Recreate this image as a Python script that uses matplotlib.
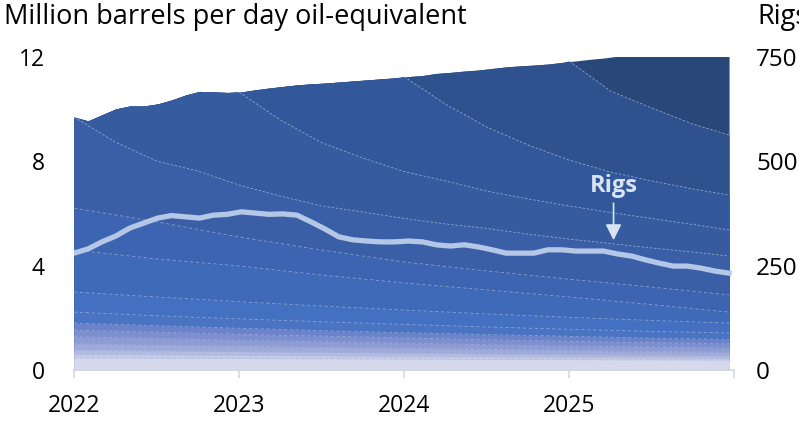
import numpy as np
import matplotlib.pyplot as plt

plt.rcParams['font.family'] = ['Open Sans', 'DejaVu Sans']

# monthly total production, million b/d oil-equivalent (Jan 2022 - Dec 2025)
total = [9.70, 9.55, 9.78, 10.01, 10.12, 10.12, 10.20, 10.35, 10.54, 10.68, 10.66, 10.64,
         10.66, 10.74, 10.81, 10.87, 10.93, 10.97, 11.00, 11.04, 11.08, 11.12, 11.16, 11.20,
         11.25, 11.29, 11.37, 11.41, 11.46, 11.50, 11.56, 11.62, 11.66, 11.69, 11.73, 11.79,
         11.85, 11.91, 11.96, 12.03, 12.07, 12.10, 12.12, 12.15, 12.18, 12.20, 12.23, 12.25]

# monthly rig count
rigs = [280, 290, 307, 321, 340, 352, 364, 370, 367, 364, 371, 373,
        379, 376, 373, 374, 371, 355, 338, 319, 312, 309, 307, 307,
        309, 307, 300, 297, 300, 295, 288, 280, 280, 280, 288, 288,
        285, 285, 285, 278, 273, 264, 256, 249, 249, 244, 237, 232]

# cumulative top of each vintage, quarterly from Q1 2022
pre2022_top = [9.70, 8.74, 8.01, 7.63, 7.09, 6.67, 6.29, 6.06, 5.81,
               5.60, 5.43, 5.21, 5.02, 4.85, 4.68, 4.52, 4.37]
top_2022 = [10.66, 9.59, 8.72, 8.13, 7.61, 7.25, 6.86, 6.56, 6.29,
            6.04, 5.81, 5.58, 5.37]          # from 2023
top_2023 = [11.25, 10.20, 9.32, 8.63, 8.05, 7.59, 7.25, 6.94, 6.71]  # from 2024
top_2024 = [11.85, 10.70, 10.05, 9.43, 9.01]  # from 2025

# older vintages, cumulative tops, half-yearly from 2022
old_tops = [
    [6.21, 5.68, 5.10, 4.60, 4.14, 3.80, 3.48, 3.18, 2.88],
    [4.60, 4.26, 3.99, 3.64, 3.34, 3.07, 2.80, 2.51, 2.22],
    [2.99, 2.80, 2.62, 2.45, 2.30, 2.15, 2.02, 1.90, 1.80],
    [2.22, 2.08, 1.96, 1.85, 1.75, 1.65, 1.56, 1.48, 1.42],
    [1.80, 1.70, 1.60, 1.51, 1.43, 1.36, 1.29, 1.22, 1.17],
    [1.53, 1.45, 1.37, 1.30, 1.23, 1.16, 1.10, 1.05, 1.00],
    [1.27, 1.21, 1.14, 1.08, 1.03, 0.97, 0.92, 0.88, 0.84],
    [1.00, 0.95, 0.91, 0.87, 0.83, 0.79, 0.75, 0.71, 0.68],
    [0.77, 0.74, 0.71, 0.68, 0.65, 0.62, 0.59, 0.56, 0.54],
    [0.61, 0.59, 0.57, 0.55, 0.53, 0.51, 0.49, 0.47, 0.45],
    [0.46, 0.45, 0.44, 0.43, 0.42, 0.41, 0.40, 0.39, 0.38],
]

years = [2022, 2023, 2024, 2025, 2026]
year_labels = ['2022', '2023', '2024', '2025', '']

cohort_colors = ['#2a4779', '#2f528e', '#32579a', '#365b9f', '#3a5fa6']
old_colors = ['#3c64b0', '#3f6ab8', '#4370c0', '#4a74c2', '#6c82c9', '#7d8fce',
              '#8e9cd3', '#a0aad9', '#b2bbe0', '#c5cbe6', '#d5d9eb']
line_color = '#a6b9e0'

months = np.linspace(2022, 2025.97, len(total))
quarters = np.r_[2022 + 0.25 * np.arange(16), 2025.97]
halves = np.r_[2022 + 0.5 * np.arange(8), 2025.97]
total = np.array(total)

fig = plt.figure(figsize=(7.99, 4.24), dpi=100)
ax = fig.add_axes([74 / 799, 1 - 370 / 424, 660 / 799, 313 / 424])
ax2 = ax.twinx()

# newest vintage fills everything under the total, older ones painted over it
ax.fill_between(months, 0, total, color=cohort_colors[0], lw=0)
newer = [(2025, top_2024), (2024, top_2023), (2023, top_2022), (2022, pre2022_top)]
for (start, vals), col in zip(newer, cohort_colors[1:]):
    q = quarters[quarters >= start - 0.01]
    m = months < start - 0.01
    x = np.r_[months[m], q]
    y = np.r_[total[m], vals]
    ax.fill_between(x, 0, y, color=col, lw=0)
    ax.plot(q, vals, color=line_color, lw=0.6, ls=(0, (3, 2)), alpha=0.8)

for vals, col in zip(old_tops, old_colors):
    ax.fill_between(halves, 0, vals, color=col, lw=0)
    ax.plot(halves, vals, color=line_color, lw=0.6, ls=(0, (4, 3)), alpha=0.7)

ax.set_xlim(2022, 2026)
ax.set_ylim(0, 12)
ax.set_yticks([0, 4, 8, 12])
ax.set_xticks(years)
ax.set_xticklabels(year_labels)
for s in ['top', 'left', 'right']:
    ax.spines[s].set_visible(False)
ax.spines['bottom'].set_color('#d9d9d9')
ax.spines['bottom'].set_linewidth(1.2)
ax.tick_params(axis='x', length=6, width=1.2, color='#d9d9d9', pad=11, labelsize=16.5)
ax.tick_params(axis='y', length=0, pad=21, labelsize=16.5)

ax2.plot(months, rigs, color='#b4c7e7', lw=3.8, solid_joinstyle='round')
ax2.set_ylim(0, 750)
ax2.set_yticks([0, 250, 500, 750])
for s in ax2.spines.values():
    s.set_visible(False)
ax2.tick_params(axis='y', length=0, pad=16, labelsize=17.5)

ax2.text(2025.27, 440, 'Rigs', color='#dae3f3', fontsize=17, fontweight='bold',
         ha='center', va='center')
ax2.annotate('', xy=(2025.27, 311), xytext=(2025.27, 400),
             arrowprops=dict(arrowstyle='-|>', color='#dae3f3', lw=1.2,
                             mutation_scale=24, shrinkA=0, shrinkB=0))

fig.text(4 / 799, 1 - 17 / 424, 'Million barrels per day oil-equivalent',
         fontsize=19.5, va='center', ha='left')
fig.text(757 / 799, 1 - 17 / 424, 'Rigs', fontsize=19.5, va='center', ha='left')

fig.savefig('out.png', dpi=100)
